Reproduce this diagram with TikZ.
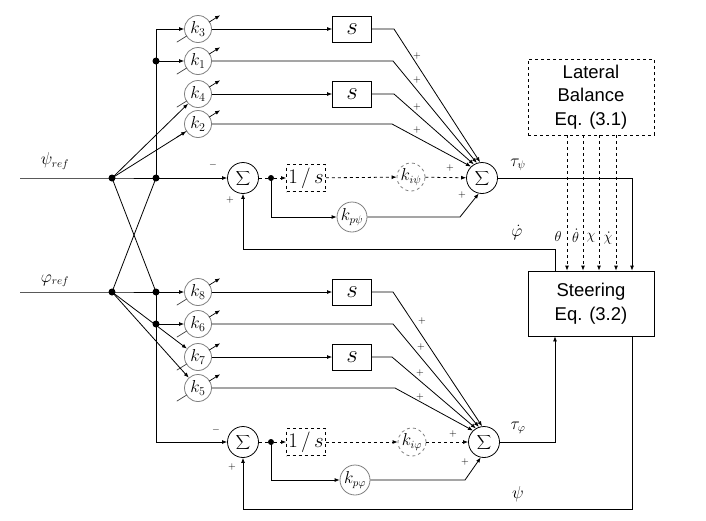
\documentclass[tikz,border=0pt]{standalone}
\usepackage{fontspec}
\newfontfamily\arialf{Liberation Sans}
\usetikzlibrary{arrows.meta,calc}
\newcommand\sumsym{{\fontsize{15}{15}\selectfont$\displaystyle\sum$}}
\newcommand\vargain[1]{%
  \draw[line width=0.7pt,black!75] ($(#1)+(211.8:25pt)$) -- ($(#1)+(211.8:13pt)$);
  \draw[->,line width=0.7pt] ($(#1)+(31.8:13pt)$) -- ($(#1)+(31.8:26pt)$);}
\begin{document}
\begin{tikzpicture}[x=1pt,y=-1pt,
  line width=0.8pt,
  >={Latex[length=5pt,width=4pt]},
  gain/.style={circle,draw=gray,fill=white,minimum size=27pt,inner sep=0pt,font=\fontsize{18}{18}\selectfont},
  sumn/.style={circle,draw,fill=white,minimum size=31pt,inner sep=0pt},
  sbox/.style={draw,fill=white,minimum width=39pt,minimum height=26pt,inner sep=0pt,font=\fontsize{26}{26}\selectfont},
  ibox/.style={draw,dashed,fill=white,minimum width=39pt,minimum height=27pt,inner sep=0pt,font=\fontsize{22}{22}\selectfont},
  kdash/.style={circle,draw=gray,dashed,fill=white,minimum size=28pt,inner sep=0pt,font=\fontsize{16}{16}\selectfont},
  kpn/.style={circle,draw=gray,fill=white,minimum size=30pt,inner sep=0pt,font=\fontsize{16}{16}\selectfont},
  dot/.style={circle,fill,inner sep=0pt,minimum size=7pt},
  sgn/.style={inner sep=0pt,font=\fontsize{10}{10}\selectfont},
  lbl/.style={inner sep=0pt,font=\fontsize{16}{16}\selectfont},
  bigbox/.style={draw,fill=white,minimum width=126pt,align=center,font=\arialf\fontsize{18.5}{23.5}\selectfont},
]
\useasboundingbox (0,0) rectangle (706,520);

% ---------- inputs and junctions ----------
\coordinate (psiIn) at (20,178);
\coordinate (phiIn) at (20,292);
\node[lbl] (psiL) at (55,161) {$\psi_{ref}$};
\node[lbl] (phiL) at (55,281) {$\varphi_{ref}$};
\node[dot] (JA) at (112,178) {};
\node[dot] (JB) at (156,178) {};
\node[dot] (JC) at (112,292) {};
\node[dot] (JD) at (156,292) {};
\node[dot] (J1) at (156,61) {};
\node[dot] (J6) at (156,324) {};
\coordinate (c3) at (156,29);
\coordinate (c3b) at (156,442);

% ---------- gains ----------
\node[gain] (k3) at (198,29) {$k_3$};
\node[gain] (k1) at (198,61) {$k_1$};
\node[gain] (k4) at (198,94) {$k_4$};
\node[gain] (k2) at (198,124) {$k_2$};
\node[gain] (k8) at (198,292) {$k_8$};
\node[gain] (k6) at (198,324) {$k_6$};
\node[gain] (k7) at (198,357) {$k_7$};
\node[gain] (k5) at (198,388) {$k_5$};
\foreach \g in {k3,k1,k4,k2,k8,k6,k7,k5}{\vargain{\g}}

% ---------- s boxes ----------
\node[sbox] (s1) at (352,29) {$s$};
\node[sbox] (s2) at (352,94) {$s$};
\node[sbox] (s3) at (352,292) {$s$};
\node[sbox] (s4) at (352,357) {$s$};

% ---------- loop elements ----------
\node[sumn] (sum1) at (243,178) {\sumsym};
\node[dot,minimum size=6pt] (D1) at (271,178) {};
\node[ibox] (I1) at (306,178) {$1\,/\,s$};
\node[kdash] (ki1) at (411,177) {$k_{i\psi}$};
\node[sumn] (sum2) at (482,178) {\sumsym};
\node[kpn] (kp1) at (352,217) {$k_{p\psi}$};

\node[sumn] (sum3) at (243,442) {\sumsym};
\node[dot,minimum size=6pt] (D2) at (271,442) {};
\node[ibox] (I2) at (306,442) {$1\,/\,s$};
\node[kdash] (ki2) at (412,442) {$k_{i\varphi}$};
\node[sumn] (sum4) at (484,442) {\sumsym};
\node[kpn] (kp2) at (355,480) {$k_{p\varphi}$};

% ---------- big boxes ----------
\node[bigbox,dashed,minimum height=76pt] (lat) at (591,97) {Lateral\\Balance\\Eq. (3.1)};
\node[bigbox,minimum height=65pt] (steer) at (591,303.5) {Steering\\Eq. (3.2)};

% ---------- input wiring ----------
\draw (psiIn) -- (JA.center) -- (JB.center);
\draw (phiIn) -- (JC.center) -- (JD.center);
\draw (JA.center) -- (JD.center);
\draw (JC.center) -- (JB.center);
\draw[->] (JB.center) -- (c3) -- (k3);
\draw[->] (J1.center) -- (k1);
\draw[->] (JA.center) -- (k4);
\draw[->] (JA.center) -- (k2);
\draw[->] (JB.center) -- (sum1);
\draw[->] (JD.center) -- (k8);
\draw[->] (J6.center) -- (k6);
\draw[->] (JC.center) -- (k7);
\draw[->] (JC.center) -- (k5);
\draw[->] (JD.center) -- (c3b) -- (sum3);

% ---------- top branch to sum2 ----------
\coordinate (b1) at (394,29);
\coordinate (b2) at (393,61);
\coordinate (b3) at (394,94);
\coordinate (b4) at (392,124);
\draw[->] (k3) -- (s1);
\draw[->] (k4) -- (s2);
\draw[->] (s1) -- (b1) -- (sum2.97);
\draw[->] (k1) -- (b2) -- (sum2.109);
\draw[->] (s2) -- (b3) -- (sum2.121);
\draw[->] (k2) -- (b4) -- (sum2.134);

\coordinate (e1) at (271,217);
\coordinate (f1) at (460,217);
\draw[dashed] (sum1) -- (D1);
\draw[dashed,->] (D1) -- (I1);
\draw[dashed,->] (I1) -- (ki1);
\draw[dashed,->] (ki1) -- (sum2);
\draw[->] (D1.center) -- (e1) -- (kp1);
\draw[->] (kp1) -- (f1) -- (sum2.258);

% ---------- bottom branch to sum4 ----------
\coordinate (b5) at (393,292);
\coordinate (b6) at (393,324);
\coordinate (b7) at (392,357);
\coordinate (b8) at (395,388);
\draw[->] (k8) -- (s3);
\draw[->] (k7) -- (s4);
\draw[->] (s3) -- (b5) -- (sum4.97);
\draw[->] (k6) -- (b6) -- (sum4.109);
\draw[->] (s4) -- (b7) -- (sum4.121);
\draw[->] (k5) -- (b8) -- (sum4.134);

\coordinate (e2) at (271,480);
\coordinate (f2) at (465,480);
\draw[dashed] (sum3) -- (D2);
\draw[dashed,->] (D2) -- (I2);
\draw[dashed,->] (I2) -- (ki2);
\draw[dashed,->] (ki2) -- (sum4);
\draw[->] (D2.center) -- (e2) -- (kp2);
\draw[->] (kp2) -- (f2) -- (sum4.258);

% ---------- outputs and feedback ----------
\coordinate (h1) at (632,178);
\coordinate (g1) at (555,249);
\coordinate (g2) at (243,249);
\coordinate (h2) at (555,442);
\coordinate (p1) at (632,509);
\coordinate (p2) at (243,509);
\draw[->] (sum2) -- (h1) -- (steer.north -| h1);
\draw[->] (steer.north -| g1) -- (g1) -- (g2) -- (sum1);
\draw[->] (sum4) -- (h2) -- (steer.south -| h2);
\draw[->] (steer.south -| p1) -- (p1) -- (p2) -- (sum3);

\foreach \n/\xx in {x1/567,x2/583,x3/599,x4/616}{
  \coordinate (\n) at (\xx,0);
  \draw[dashed,->] (lat.south -| \n) -- (steer.north -| \n);
}

% ---------- labels ----------
\node[lbl] (tauPsi) at (518,165) {$\tau_\psi$};
\node[lbl] (tauPhi) at (518,428) {$\tau_\varphi$};
\node[lbl] (phidL) at (517,233) {$\dot\varphi$};
\node[lbl] (psiFb) at (518,494) {$\psi$};
\node[lbl,font=\fontsize{15}{15}\selectfont] (thL) at (558,236) {$\theta$};
\node[lbl,font=\fontsize{15}{15}\selectfont] (thdL) at (575.5,236) {$\dot\theta$};
\node[lbl,font=\fontsize{15}{15}\selectfont] (chL) at (591,238) {$\chi$};
\node[lbl,font=\fontsize{15}{15}\selectfont] (chdL) at (608,238) {$\dot\chi$};

% signs
\node[sgn] (m1) at (213,165) {$-$};
\node[sgn] (p1s) at (230,200) {$+$};
\node[sgn] (m3) at (216,430) {$-$};
\node[sgn] (p3s) at (232,467) {$+$};
\foreach \xx/\yy [count=\i] in {417/56,417/80,417/107,417/130,450/168,462/195,422/321,421/347,420/373,420/397,453/434,465/462}{
  \node[sgn] (pl\i) at (\xx,\yy) {$+$};
}
\end{tikzpicture}
\end{document}
